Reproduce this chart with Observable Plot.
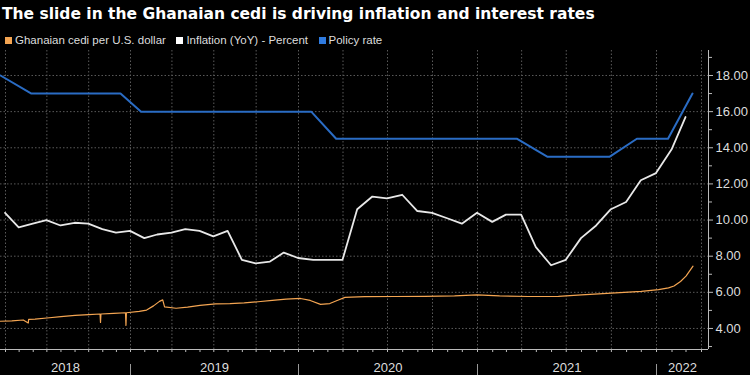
<!DOCTYPE html>
<html><head><meta charset="utf-8">
<script src="https://cdn.jsdelivr.net/npm/d3@7"></script>
<script src="https://cdn.jsdelivr.net/npm/@observablehq/plot@0.6"></script>
<style>
html,body{margin:0;padding:0;background:#000;width:750px;height:375px;overflow:hidden;}
#title{position:absolute;left:2px;top:6px;font-family:"DejaVu Sans",sans-serif;font-weight:bold;font-size:15.5px;line-height:16px;color:#fff;white-space:nowrap;}
#legend{position:absolute;left:5px;top:33px;display:flex;align-items:center;font-family:"Liberation Sans",sans-serif;font-size:11.5px;color:#ddd;white-space:nowrap;line-height:14px;}
#legend .sw{display:inline-block;width:7px;height:7px;margin-right:3px;}
#legend .it{display:flex;align-items:center;margin-right:10.5px;}
#chart{position:absolute;left:0;top:48px;}
</style></head>
<body>
<div id="title">The slide in the Ghanaian cedi is driving inflation and interest rates</div>
<div id="legend"></div>
<div id="chart"></div>
<script>
// ---- data ----
const seriesNames = ["Ghanaian cedi per U.S. dollar", "Inflation (YoY) - Percent", "Policy rate"];
const seriesColors = ["#f4a552", "#ffffff", "#2f7be0"];

const fxDates = ["2018-03-21","2018-04-15","2018-05-10","2018-05-21","2018-05-22","2018-06-05","2018-07-01","2018-08-01","2018-09-01","2018-10-01","2018-10-26","2018-10-27","2018-10-28","2018-11-25","2018-12-21","2018-12-22","2018-12-23","2019-01-20","2019-02-05","2019-02-20","2019-03-05","2019-03-12","2019-03-16","2019-04-10","2019-05-05","2019-06-01","2019-07-05","2019-08-05","2019-09-05","2019-10-05","2019-11-05","2019-12-05","2020-01-05","2020-01-25","2020-02-15","2020-03-05","2020-03-20","2020-04-05","2020-05-15","2020-07-15","2020-09-15","2020-11-15","2020-12-31","2021-02-15","2021-04-15","2021-06-15","2021-08-01","2021-10-01","2021-12-01","2022-01-05","2022-01-25","2022-02-05","2022-02-18","2022-03-01","2022-03-15"];
const fxValues = [4.40,4.42,4.47,4.30,4.50,4.52,4.58,4.65,4.72,4.77,4.80,4.33,4.80,4.84,4.87,4.17,4.87,4.95,5.02,5.25,5.50,5.58,5.20,5.12,5.18,5.28,5.36,5.38,5.42,5.48,5.55,5.62,5.66,5.55,5.33,5.38,5.55,5.72,5.76,5.77,5.78,5.80,5.86,5.80,5.77,5.78,5.86,5.96,6.05,6.15,6.25,6.35,6.60,6.90,7.45];

const inflationMonths = ["2018-03","2018-04","2018-05","2018-06","2018-07","2018-08","2018-09","2018-10","2018-11","2018-12","2019-01","2019-02","2019-03","2019-04","2019-05","2019-06","2019-07","2019-08","2019-09","2019-10","2019-11","2019-12","2020-01","2020-02","2020-03","2020-04","2020-05","2020-06","2020-07","2020-08","2020-09","2020-10","2020-11","2020-12","2021-01","2021-02","2021-03","2021-04","2021-05","2021-06","2021-07","2021-08","2021-09","2021-10","2021-11","2021-12","2022-01","2022-02"];
const inflationValues = [10.4,9.6,9.8,10.0,9.7,9.85,9.8,9.5,9.3,9.4,9.0,9.2,9.3,9.5,9.4,9.1,9.4,7.8,7.6,7.7,8.2,7.9,7.8,7.8,7.8,10.6,11.3,11.2,11.4,10.5,10.4,10.1,9.8,10.4,9.9,10.3,10.3,8.5,7.5,7.8,9.0,9.7,10.6,11.0,12.2,12.6,13.9,15.7];

const policyDates = ["2018-03-21","2018-05-28","2018-12-10","2019-01-24","2020-01-27","2020-03-18","2021-03-22","2021-05-24","2021-09-27","2021-11-22","2022-01-24","2022-03-14"];
const policyValues = [18,17,17,16,16,14.5,14.5,13.5,13.5,14.5,14.5,17];

const yTickValues = [4,6,8,10,12,14,16,18];
const yMinorTickValues = [3,5,7,9,11,13,15,17,19];
const yearLabels = ["2018","2019","2020","2021","2022"];

// ---- build ----
const parse = d3.utcParse("%Y-%m-%d");
const parseM = d3.utcParse("%Y-%m");
const fx = fxDates.map((d,i)=>({date:parse(d), value:fxValues[i]}));
const infl = inflationMonths.map((m,i)=>({date:d3.utcDay.offset(d3.utcMonth.offset(parseM(m),1),-1), value:inflationValues[i]}));
const pol = policyDates.map((d,i)=>({date:parse(d), value:policyValues[i]}));

const xStart = parse("2018-03-21"), xEnd = parse("2022-04-15");
const xDomain = [xStart, parse("2019-01-01"), parse("2020-01-01"), parse("2021-01-01"), parse("2022-01-01"), xEnd];
const xRange = [0,130,298,477,656,708];

const monthTicks = d3.utcMonth.range(xStart, xEnd);
const quarterTicks = monthTicks.filter(d=>d.getUTCMonth()%3===0);
const yearStarts = d3.utcYear.range(xStart, xEnd).filter(d=>d>xStart);
const yearMids = yearLabels.map(y=>{
  const a = new Date(Math.max(+parse(y+"-01-01"), +xStart));
  const b = new Date(Math.min(+parse((+y+1)+"-01-01"), +xEnd));
  return new Date((+a + +b)/2);
});

const grid = {stroke:"#5a5a5a", strokeOpacity:1, strokeDasharray:"1.5,2"};
const chart = Plot.plot({
  width:750, height:327,
  marginTop:2, marginBottom:26, marginLeft:0, marginRight:42,
  style:{background:"#000", color:"#ddd", fontFamily:"Liberation Sans, sans-serif", fontSize:"13px"},
  x:{type:"utc", domain:xDomain, range:xRange, label:null},
  y:{domain:[2.836,19.383], label:null},
  marks:[
    Plot.gridY(yTickValues, grid),
    Plot.gridX(quarterTicks, grid),
    Plot.ruleY([2.836], {stroke:"#bbb"}),
    Plot.ruleX([xEnd], {stroke:"#bbb"}),
    Plot.axisX(monthTicks, {tickSize:3, tickFormat:()=>"", stroke:"#bbb", label:null}),
    Plot.ruleX(yearStarts, {stroke:"#999", insetTop:314, insetBottom:-26}),
    Plot.text(yearLabels, {x:(d,i)=>yearMids[i], text:d=>d, frameAnchor:"bottom", dy:22, fill:"#ddd", fontSize:13}),
    Plot.axisY(yTickValues, {anchor:"right", tickSize:4, tickPadding:3, tickFormat:d3.format(".2f"), stroke:"#bbb", fill:"#ddd", fontSize:13, label:null}),
    Plot.axisY(yMinorTickValues, {anchor:"right", tickSize:3, tickFormat:()=>"", stroke:"#bbb", label:null}),
    Plot.lineY(fx, {x:"date", y:"value", stroke:seriesColors[0], strokeWidth:1.2}),
    Plot.lineY(infl, {x:"date", y:"value", stroke:"#e8e8e8", strokeWidth:1.8}),
    Plot.lineY(pol, {x:"date", y:"value", stroke:"#2a6cc4", strokeWidth:2})
  ]
});
document.getElementById("chart").appendChild(chart);

const lg = document.getElementById("legend");
seriesNames.forEach((n,i)=>{
  const it = document.createElement("span"); it.className="it";
  const sw = document.createElement("span"); sw.className="sw"; sw.style.background=seriesColors[i];
  it.appendChild(sw); it.appendChild(document.createTextNode(n)); lg.appendChild(it);
});
</script>
</body></html>
